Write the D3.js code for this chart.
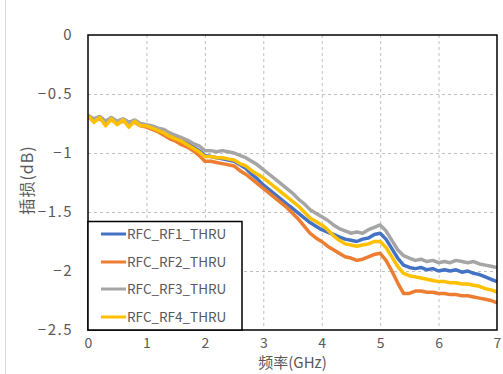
<!DOCTYPE html>
<html>
<head>
<meta charset="utf-8">
<script src="https://cdn.jsdelivr.net/npm/d3@7"></script>
<style>
  body { margin: 0; background: #fff; }
  svg { display: block; }
  text { font-family: "Noto Sans CJK SC", "Noto Sans", sans-serif; fill: #595959; }
</style>
</head>
<body>
<svg width="503" height="374"></svg>
<script>
// Frequency grid (GHz)
const freqs = [0.0,0.1,0.2,0.3,0.4,0.5,0.6,0.7,0.8,0.9,1.0,1.1,1.2,1.3,1.4,1.5,1.6,1.7,1.8,1.9,
  2.0,2.1,2.2,2.3,2.4,2.5,2.6,2.7,2.8,2.9,3.0,3.1,3.2,3.3,3.4,3.5,3.6,3.7,3.8,3.9,
  4.0,4.1,4.2,4.3,4.4,4.5,4.6,4.7,4.8,4.9,5.0,5.1,5.2,5.3,5.4,5.5,5.6,5.7,5.8,5.9,
  6.0,6.1,6.2,6.3,6.4,6.5,6.6,6.7,6.8,6.9,7.0];

// Insertion loss (dB)
const rf1 = [-0.69,-0.72,-0.70,-0.73,-0.71,-0.74,-0.72,-0.74,-0.73,-0.76,-0.77,-0.78,-0.80,-0.82,-0.85,-0.87,-0.89,-0.92,-0.95,-0.98,
  -1.02,-1.03,-1.04,-1.05,-1.06,-1.07,-1.10,-1.13,-1.18,-1.22,-1.27,-1.31,-1.35,-1.39,-1.43,-1.47,-1.51,-1.55,-1.59,-1.62,
  -1.65,-1.67,-1.69,-1.71,-1.73,-1.74,-1.75,-1.73,-1.72,-1.69,-1.68,-1.73,-1.81,-1.89,-1.95,-1.97,-1.98,-1.97,-1.99,-1.98,
  -2.00,-1.99,-2.00,-1.99,-2.01,-2.00,-2.02,-2.03,-2.05,-2.07,-2.09];
const rf2 = [-0.70,-0.72,-0.71,-0.74,-0.72,-0.75,-0.73,-0.75,-0.74,-0.77,-0.78,-0.80,-0.82,-0.85,-0.88,-0.90,-0.93,-0.95,-0.98,-1.02,
  -1.07,-1.07,-1.08,-1.09,-1.10,-1.11,-1.15,-1.18,-1.22,-1.26,-1.30,-1.34,-1.38,-1.42,-1.46,-1.51,-1.56,-1.62,-1.68,-1.72,
  -1.75,-1.79,-1.82,-1.85,-1.88,-1.89,-1.91,-1.90,-1.88,-1.86,-1.85,-1.91,-2.00,-2.10,-2.19,-2.19,-2.17,-2.17,-2.18,-2.18,
  -2.19,-2.19,-2.20,-2.20,-2.21,-2.21,-2.22,-2.23,-2.24,-2.25,-2.27];
const rf3 = [-0.68,-0.71,-0.69,-0.73,-0.70,-0.73,-0.71,-0.74,-0.72,-0.75,-0.76,-0.77,-0.79,-0.80,-0.83,-0.85,-0.87,-0.89,-0.92,-0.94,
  -0.98,-0.98,-0.99,-0.98,-0.99,-1.00,-1.02,-1.04,-1.07,-1.10,-1.14,-1.18,-1.22,-1.26,-1.30,-1.34,-1.39,-1.43,-1.48,-1.51,
  -1.54,-1.57,-1.61,-1.64,-1.66,-1.68,-1.67,-1.68,-1.65,-1.63,-1.61,-1.66,-1.74,-1.82,-1.87,-1.89,-1.91,-1.90,-1.92,-1.91,
  -1.93,-1.92,-1.93,-1.91,-1.92,-1.93,-1.92,-1.94,-1.95,-1.96,-1.97];
const rf4 = [-0.68,-0.74,-0.70,-0.77,-0.71,-0.76,-0.72,-0.78,-0.73,-0.77,-0.77,-0.79,-0.81,-0.83,-0.86,-0.88,-0.90,-0.93,-0.96,-0.99,
  -1.03,-1.03,-1.04,-1.04,-1.05,-1.06,-1.09,-1.11,-1.15,-1.18,-1.21,-1.25,-1.29,-1.33,-1.37,-1.41,-1.45,-1.50,-1.55,-1.58,
  -1.61,-1.65,-1.70,-1.74,-1.77,-1.78,-1.79,-1.78,-1.77,-1.75,-1.75,-1.80,-1.88,-1.96,-2.02,-2.04,-2.05,-2.06,-2.07,-2.08,
  -2.09,-2.09,-2.10,-2.10,-2.11,-2.11,-2.12,-2.13,-2.15,-2.16,-2.18];

const seriesNames = ["RFC_RF1_THRU", "RFC_RF2_THRU", "RFC_RF3_THRU", "RFC_RF4_THRU"];
const seriesValues = [rf1, rf2, rf3, rf4];
const colors = ["#4472C4", "#ED7D31", "#A5A5A5", "#FFC000"];

const xTicks = [0, 1, 2, 3, 4, 5, 6, 7];
const yTicks = [0, -0.5, -1, -1.5, -2, -2.5];

const margin = { top: 35, right: 6, bottom: 44, left: 88 };
const width = 503;
const height = 374;

const svg = d3.select("svg");

// Outer chart border (left edge visible)
svg.append("line")
    .attr("x1", 5.5).attr("x2", 5.5)
    .attr("y1", 0).attr("y2", height)
    .attr("stroke", "#d9d9d9");

const xScale = d3.scaleLinear()
    .domain([0, 7])
    .range([margin.left, width - margin.right]);

const yScale = d3.scaleLinear()
    .domain([-2.5, 0])
    .range([height - margin.bottom, margin.top]);

const plotW = xScale.range()[1] - xScale.range()[0];
const plotH = yScale.range()[0] - yScale.range()[1];

// Grid lines
const xGrid = svg.append("g")
    .attr("transform", `translate(0, ${margin.top})`)
    .call(d3.axisBottom(xScale).tickValues(xTicks.slice(1, -1)).tickSize(plotH).tickFormat(""));
xGrid.select(".domain").remove();
xGrid.selectAll("line").attr("stroke", "#bfbfbf").attr("stroke-dasharray", "3,3");

const yGrid = svg.append("g")
    .attr("transform", `translate(${margin.left}, 0)`)
    .call(d3.axisRight(yScale).tickValues(yTicks.slice(1, -1)).tickSize(plotW).tickFormat(""));
yGrid.select(".domain").remove();
yGrid.selectAll("line").attr("stroke", "#bfbfbf").attr("stroke-dasharray", "3,3");

// Axes labels
const xAxis = svg.append("g")
    .attr("transform", `translate(0, ${yScale.range()[0]})`)
    .call(d3.axisBottom(xScale).tickValues(xTicks).tickSize(0).tickPadding(8).tickFormat(d3.format("d")));
xAxis.select(".domain").remove();
xAxis.selectAll("text").attr("font-size", 14).attr("fill", "#595959")
    .attr("font-family", "\"Noto Sans CJK SC\", sans-serif");

const yAxis = svg.append("g")
    .attr("transform", `translate(${margin.left}, 0)`)
    .call(d3.axisLeft(yScale).tickValues(yTicks).tickSize(0).tickPadding(15).tickFormat(d3.format("")));
yAxis.select(".domain").remove();
yAxis.selectAll("text").attr("font-size", 15).attr("fill", "#595959")
    .attr("letter-spacing", 1.5)
    .attr("font-family", "\"Noto Sans CJK SC\", sans-serif");

// Lines
svg.append("clipPath").attr("id", "plot-clip")
    .append("rect")
    .attr("x", margin.left).attr("y", margin.top)
    .attr("width", plotW).attr("height", plotH);

const line = d3.line()
    .x((d, i) => xScale(freqs[i]))
    .y(d => yScale(d));

svg.append("g")
    .attr("clip-path", "url(#plot-clip)")
    .selectAll("path")
    .data(seriesValues)
    .enter()
    .append("path")
    .attr("d", d => line(d))
    .attr("fill", "none")
    .attr("stroke", (d, i) => colors[i])
    .attr("stroke-width", 3.5)
    .attr("stroke-linejoin", "round");

// Plot frame
svg.append("rect")
    .attr("x", margin.left).attr("y", margin.top)
    .attr("width", plotW).attr("height", plotH)
    .attr("fill", "none")
    .attr("stroke", "#000")
    .attr("stroke-width", 1.5);

// Legend
const legend = svg.append("g");
legend.append("rect")
    .attr("x", margin.left).attr("y", 221.5)
    .attr("width", 154).attr("height", yScale.range()[0] - 221.5)
    .attr("fill", "#fff")
    .attr("stroke", "#000")
    .attr("stroke-width", 1.5);

const rowY = [234, 262, 289, 317];
seriesNames.forEach(function(name, i) {
    legend.append("line")
        .attr("x1", 101).attr("x2", 126)
        .attr("y1", rowY[i]).attr("y2", rowY[i])
        .attr("stroke", colors[i])
        .attr("stroke-width", 3);
    legend.append("text")
        .attr("x", 127)
        .attr("y", rowY[i])
        .attr("dy", "0.35em")
        .attr("font-size", 13.5)
        .text(name);
});

// X-axis title
svg.append("text")
    .attr("x", (xScale.range()[0] + xScale.range()[1]) / 2)
    .attr("y", 368)
    .attr("text-anchor", "middle")
    .attr("font-size", 15)
    .text("频率(GHz)");

// Y-axis title
svg.append("text")
    .attr("transform", "translate(33, 180) rotate(-90)")
    .attr("text-anchor", "middle")
    .attr("font-size", 16)
    .attr("letter-spacing", 1)
    .text("插损(dB)");
</script>
</body>
</html>
